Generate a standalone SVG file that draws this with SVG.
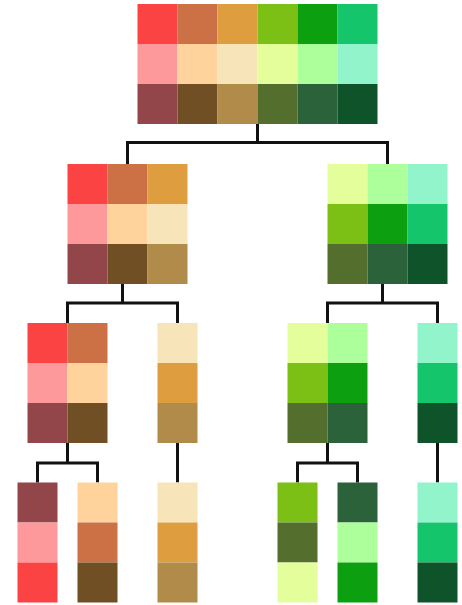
<svg xmlns="http://www.w3.org/2000/svg" width="462" height="605" viewBox="0 0 462 605">
<style>
.e{stroke:#111;stroke-width:3;fill:none;stroke-linejoin:miter}
.R{fill:#FB4343}.T{fill:#CC7046}.O{fill:#DE9D3E}.L{fill:#7CC015}.G{fill:#0C9F0F}.E{fill:#15C56C}
.P{fill:#FE999B}.Pe{fill:#FFD39B}.C{fill:#F7E4B8}.PL{fill:#E3FE9B}.LG{fill:#ADFF9B}.M{fill:#92F4CB}
.Ma{fill:#934649}.B{fill:#714F24}.Tn{fill:#B08B4A}.Ol{fill:#546E2E}.DG{fill:#2B623A}.VD{fill:#0F532B}
</style>
<rect width="462" height="605" fill="#fff"/>
<g id="connectors" class="e">
<path d="M127.5,164V142.5H387.5V164M257.5,124V142.5"/>
<path d="M67.5,323V303H177.5V323M122.5,284V303"/>
<path d="M327.5,323V303H437.5V323M382.5,284V303"/>
<path d="M37.5,482.5V463H97.5V482.5M67.5,443V463"/>
<path d="M177.5,443V482.5"/>
<path d="M297.5,482.5V463H357.5V482.5M327.5,443V463"/>
<path d="M437.5,443V482.5"/>
</g>
<g id="root">
<rect class="R" x="137.5" y="4" width="40" height="40"/><rect class="T" x="177.5" y="4" width="40" height="40"/><rect class="O" x="217.5" y="4" width="40" height="40"/><rect class="L" x="257.5" y="4" width="40" height="40"/><rect class="G" x="297.5" y="4" width="40" height="40"/><rect class="E" x="337.5" y="4" width="40" height="40"/>
<rect class="P" x="137.5" y="44" width="40" height="40"/><rect class="Pe" x="177.5" y="44" width="40" height="40"/><rect class="C" x="217.5" y="44" width="40" height="40"/><rect class="PL" x="257.5" y="44" width="40" height="40"/><rect class="LG" x="297.5" y="44" width="40" height="40"/><rect class="M" x="337.5" y="44" width="40" height="40"/>
<rect class="Ma" x="137.5" y="84" width="40" height="40"/><rect class="B" x="177.5" y="84" width="40" height="40"/><rect class="Tn" x="217.5" y="84" width="40" height="40"/><rect class="Ol" x="257.5" y="84" width="40" height="40"/><rect class="DG" x="297.5" y="84" width="40" height="40"/><rect class="VD" x="337.5" y="84" width="40" height="40"/>
</g>
<g id="n-left">
<rect class="R" x="67.5" y="164" width="40" height="40"/><rect class="T" x="107.5" y="164" width="40" height="40"/><rect class="O" x="147.5" y="164" width="40" height="40"/>
<rect class="P" x="67.5" y="204" width="40" height="40"/><rect class="Pe" x="107.5" y="204" width="40" height="40"/><rect class="C" x="147.5" y="204" width="40" height="40"/>
<rect class="Ma" x="67.5" y="244" width="40" height="40"/><rect class="B" x="107.5" y="244" width="40" height="40"/><rect class="Tn" x="147.5" y="244" width="40" height="40"/>
</g>
<g id="n-right">
<rect class="PL" x="327.5" y="164" width="40" height="40"/><rect class="LG" x="367.5" y="164" width="40" height="40"/><rect class="M" x="407.5" y="164" width="40" height="40"/>
<rect class="L" x="327.5" y="204" width="40" height="40"/><rect class="G" x="367.5" y="204" width="40" height="40"/><rect class="E" x="407.5" y="204" width="40" height="40"/>
<rect class="Ol" x="327.5" y="244" width="40" height="40"/><rect class="DG" x="367.5" y="244" width="40" height="40"/><rect class="VD" x="407.5" y="244" width="40" height="40"/>
</g>
<g id="n-ll">
<rect class="R" x="27.5" y="323" width="40" height="40"/><rect class="T" x="67.5" y="323" width="40" height="40"/>
<rect class="P" x="27.5" y="363" width="40" height="40"/><rect class="Pe" x="67.5" y="363" width="40" height="40"/>
<rect class="Ma" x="27.5" y="403" width="40" height="40"/><rect class="B" x="67.5" y="403" width="40" height="40"/>
</g>
<g id="n-lr">
<rect class="C" x="157.5" y="323" width="40" height="40"/><rect class="O" x="157.5" y="363" width="40" height="40"/><rect class="Tn" x="157.5" y="403" width="40" height="40"/>
</g>
<g id="n-rl">
<rect class="PL" x="287.5" y="323" width="40" height="40"/><rect class="LG" x="327.5" y="323" width="40" height="40"/>
<rect class="L" x="287.5" y="363" width="40" height="40"/><rect class="G" x="327.5" y="363" width="40" height="40"/>
<rect class="Ol" x="287.5" y="403" width="40" height="40"/><rect class="DG" x="327.5" y="403" width="40" height="40"/>
</g>
<g id="n-rr">
<rect class="M" x="417.5" y="323" width="40" height="40"/><rect class="E" x="417.5" y="363" width="40" height="40"/><rect class="VD" x="417.5" y="403" width="40" height="40"/>
</g>
<g id="leaf1"><rect class="Ma" x="17.5" y="482.5" width="40" height="40"/><rect class="P" x="17.5" y="522.5" width="40" height="40"/><rect class="R" x="17.5" y="562.5" width="40" height="40"/></g>
<g id="leaf2"><rect class="Pe" x="77.5" y="482.5" width="40" height="40"/><rect class="T" x="77.5" y="522.5" width="40" height="40"/><rect class="B" x="77.5" y="562.5" width="40" height="40"/></g>
<g id="leaf3"><rect class="C" x="157.5" y="482.5" width="40" height="40"/><rect class="O" x="157.5" y="522.5" width="40" height="40"/><rect class="Tn" x="157.5" y="562.5" width="40" height="40"/></g>
<g id="leaf4"><rect class="L" x="277.5" y="482.5" width="40" height="40"/><rect class="Ol" x="277.5" y="522.5" width="40" height="40"/><rect class="PL" x="277.5" y="562.5" width="40" height="40"/></g>
<g id="leaf5"><rect class="DG" x="337.5" y="482.5" width="40" height="40"/><rect class="LG" x="337.5" y="522.5" width="40" height="40"/><rect class="G" x="337.5" y="562.5" width="40" height="40"/></g>
<g id="leaf6"><rect class="M" x="417.5" y="482.5" width="40" height="40"/><rect class="E" x="417.5" y="522.5" width="40" height="40"/><rect class="VD" x="417.5" y="562.5" width="40" height="40"/></g>
</svg>
